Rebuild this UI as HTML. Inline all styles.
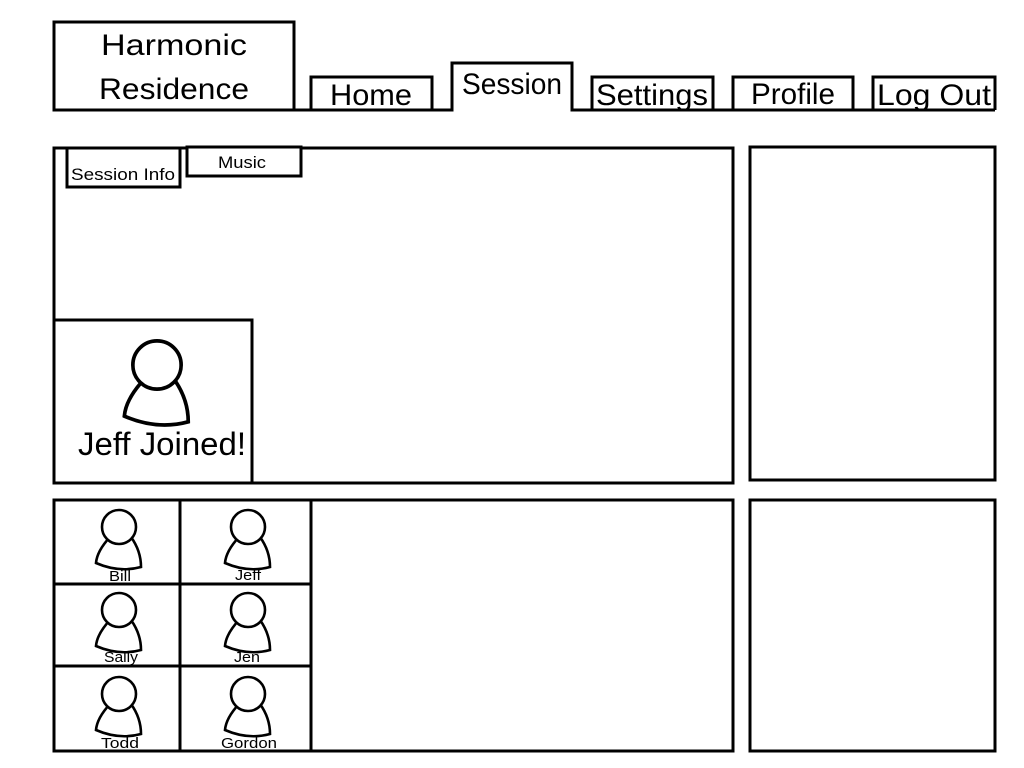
<!DOCTYPE html>
<html><head><style>html,body{margin:0;padding:0;background:#fff}svg{display:block}</style></head>
<body>
<svg width="1024" height="768" viewBox="0 0 1024 768" xmlns="http://www.w3.org/2000/svg" font-family="Liberation Sans, sans-serif">
<defs>
<g id="av" stroke="#000" stroke-width="2.6">
<path d="M-9,10 Q-22,24 -23,36 Q0,46 22,40 Q22,24 12,10" fill="none"/>
<circle cx="0" cy="0" r="17" fill="#fff"/>
</g>
</defs>
<g fill="none" stroke="#000" stroke-width="3">
<rect x="54" y="22" width="240" height="88"/>
<path d="M294,110 H311 V77 H432 V110 H452 V63 H572 V110 H592 V77 H713 V110 H733 V77 H853 V110 H873 V77 H995 V110"/>
<path d="M311,110 H432 M592,110 H713 M733,110 H853 M873,110 H995"/>
<rect x="54" y="148" width="679" height="335"/>
<rect x="750" y="147" width="245" height="333"/>
<rect x="54" y="500" width="679" height="251"/>
<rect x="750" y="500" width="245" height="251"/>
<path d="M180,500 V751 M311,500 V751 M54,584 H311 M54,666 H311"/>
</g>
<rect x="67" y="148" width="113" height="39" fill="#fff" stroke="#000" stroke-width="3"/>
<rect x="187" y="147" width="114" height="29" fill="#fff" stroke="#000" stroke-width="3"/>
<rect x="54" y="320" width="198" height="163" fill="#fff" stroke="#000" stroke-width="3"/>
<g font-size="30" text-anchor="middle">
<text x="174" y="55" textLength="146" lengthAdjust="spacingAndGlyphs">Harmonic</text>
<text x="174" y="99" textLength="150" lengthAdjust="spacingAndGlyphs">Residence</text>
<text x="371" y="105" textLength="82" lengthAdjust="spacingAndGlyphs">Home</text>
<text x="512" y="94" textLength="100" lengthAdjust="spacingAndGlyphs">Session</text>
<text x="652" y="105" textLength="112" lengthAdjust="spacingAndGlyphs">Settings</text>
<text x="793" y="104" textLength="84" lengthAdjust="spacingAndGlyphs">Profile</text>
<text x="934" y="105" textLength="114" lengthAdjust="spacingAndGlyphs">Log Out</text>
</g>
<text x="123" y="180" font-size="17" text-anchor="middle" textLength="104" lengthAdjust="spacingAndGlyphs">Session Info</text>
<text x="242" y="168" font-size="17" text-anchor="middle" textLength="48" lengthAdjust="spacingAndGlyphs">Music</text>
<use href="#av" transform="translate(157,365) scale(1.42)"/>
<text x="162" y="455" font-size="32" text-anchor="middle" textLength="168" lengthAdjust="spacingAndGlyphs">Jeff Joined!</text>
<use href="#av" x="119" y="527"/><use href="#av" x="248" y="527"/>
<use href="#av" x="119" y="610"/><use href="#av" x="248" y="610"/>
<use href="#av" x="119" y="694"/><use href="#av" x="248" y="694"/>
<g font-size="15" text-anchor="middle">
<text x="120" y="581" textLength="22" lengthAdjust="spacingAndGlyphs">Bill</text><text x="248" y="580" textLength="26" lengthAdjust="spacingAndGlyphs">Jeff</text>
<text x="121" y="662" textLength="34" lengthAdjust="spacingAndGlyphs">Sally</text><text x="247" y="662" textLength="26" lengthAdjust="spacingAndGlyphs">Jen</text>
<text x="120" y="748" textLength="38" lengthAdjust="spacingAndGlyphs">Todd</text><text x="249" y="748" textLength="56" lengthAdjust="spacingAndGlyphs">Gordon</text>
</g>
</svg>
</body></html>
